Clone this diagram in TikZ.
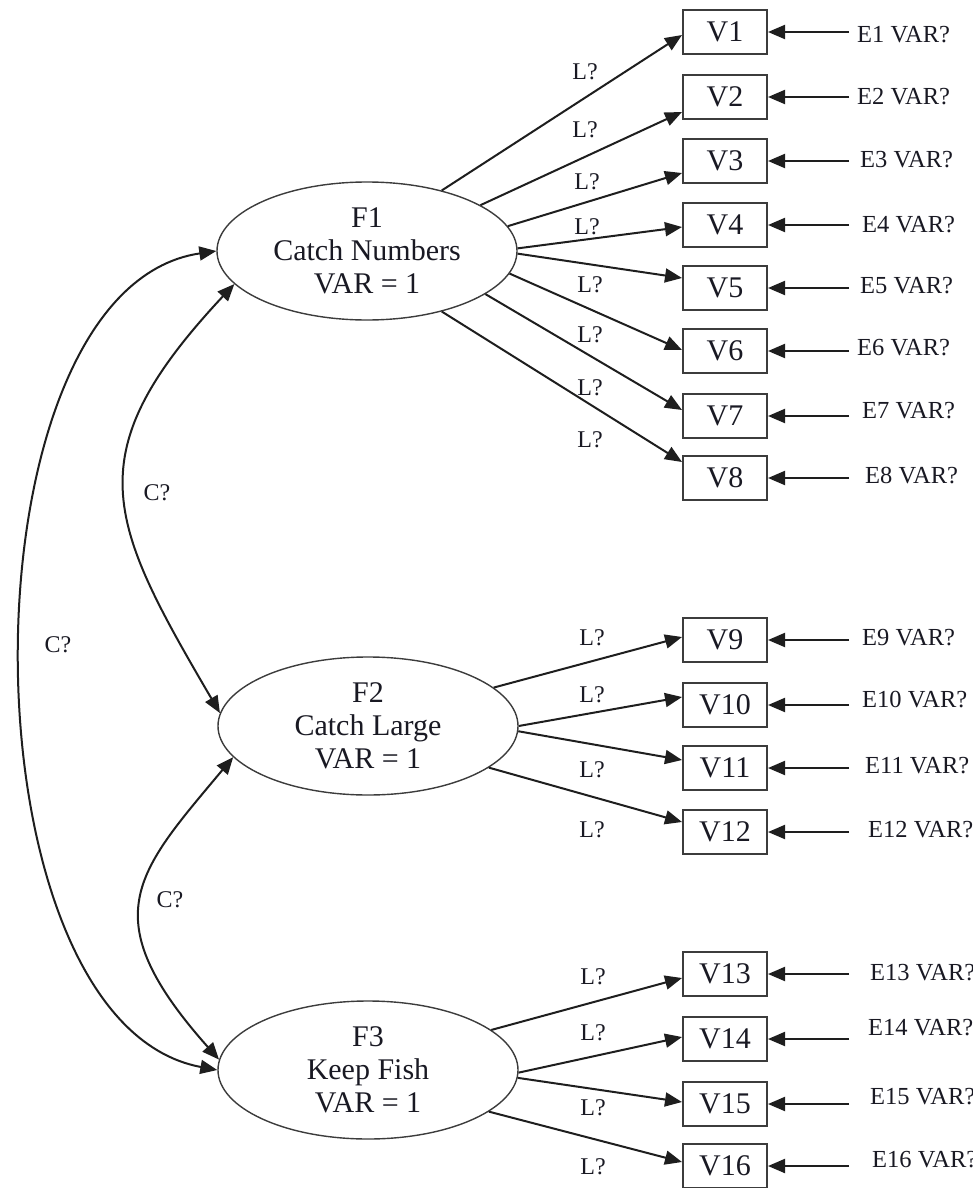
\documentclass[tikz,border=0pt]{standalone}
\usepackage{fontspec}
\setmainfont{Liberation Serif}
\usetikzlibrary{arrows.meta,shapes.geometric}
\definecolor{ink}{RGB}{25,25,35}
\definecolor{edgec}{RGB}{30,30,30}
\definecolor{boxc}{RGB}{60,60,60}
\begin{document}
\begin{tikzpicture}[x=1pt,y=-1pt,
  latent/.style={ellipse, draw=boxc, line width=1.4pt, minimum width=300pt, minimum height=138pt,
    inner sep=0pt, align=center, text=ink, font=\fontsize{30}{33}\selectfont},
  obs/.style={rectangle, draw=boxc, line width=2pt, minimum width=84pt, minimum height=44pt,
    inner sep=0pt, text=ink, font=\fontsize{30}{30}\selectfont},
  lab/.style={text=ink, font=\fontsize{24}{24}\selectfont, inner sep=0pt},
  elab/.style={text=ink, font=\fontsize{24.5}{24}\selectfont, inner sep=0pt},
  pathc/.style={draw=edgec, line width=2pt, -{Triangle[length=17pt,width=14pt]}},
  covc/.style={draw=edgec, line width=2pt, {Triangle[length=17pt,width=14pt]}-{Triangle[length=17pt,width=14pt]}},
]
\useasboundingbox (0,0) rectangle (972,1188);

% latent factors
\node[latent] (F1) at (367,251) {F1\\Catch Numbers\\VAR = 1};
\node[latent] (F2) at (368,726) {F2\\Catch Large\\VAR = 1};
\node[latent] (F3) at (368,1070) {F3\\Keep Fish\\VAR = 1};

% observed variables
\foreach \i/\y in {1/32,2/97,3/161,4/225,5/288,6/351,7/416,8/478,9/640,10/705,11/768,12/832,13/974,14/1039,15/1104,16/1166}
  \node[obs] (V\i) at (725,\y) {V\i};

% error labels and arrows
\foreach \i/\x/\y in {1/857/35,2/857/97,3/860/160,4/862/225,5/860/286,6/857/348,7/862/411,8/865/476,9/862/638,10/862/700,11/865/766,12/868/830,13/870/973,14/868/1028,15/870/1097,16/872/1160}
  \node[elab, anchor=west] (E\i) at (\x,\y) {E\i\ VAR?};
\foreach \i in {1,...,16} {
  \coordinate (es\i) at ([xshift=81pt]V\i.east);
  \draw[pathc] (es\i) -- (V\i.east);
}

% loadings
\foreach \i/\a/\d in {1/39/-3,2/22/-15,3/10/-12,4/1/-2,5/359/10,6/351/1,7/340/6,8/321/16}
  \draw[pathc] (F1.\a) -- ([yshift=\d pt]V\i.west);
\foreach \i/\a/\d in {9/17/3,10/0/8,11/358/8,12/341/10}
  \draw[pathc] (F2.\a) -- ([yshift=\d pt]V\i.west);
\foreach \i/\a/\d in {13/18/-4,14/359/2,15/357/2,16/341/4}
  \draw[pathc] (F3.\a) -- ([yshift=\d pt]V\i.west);

% loading labels
\foreach \i/\x/\y in {1/585/72,2/585/130,3/587/182,4/587/227,5/590/285,6/590/335,7/590/388,8/590/440,9/592/638,10/592/695,11/592/770,12/592/830,13/593/977,14/593/1033,15/593/1108,16/593/1167}
  \node[lab] (L\i) at (\x,\y) {L?};

% covariances
\draw[covc] (F1.west) .. controls +(-260,38) and +(-260,-48) .. (F3.west);
\draw[covc] (F1.194) .. controls +(-159,170) and +(-113,-193) .. (F2.175);
\draw[covc] (F2.193) .. controls +(-97,116) and +(-127,-143) .. (F3.176);

\node[lab] (C1) at (58,645) {C?};
\node[lab] (C2) at (157,493) {C?};
\node[lab] (C3) at (170,900) {C?};
\end{tikzpicture}
\end{document}
